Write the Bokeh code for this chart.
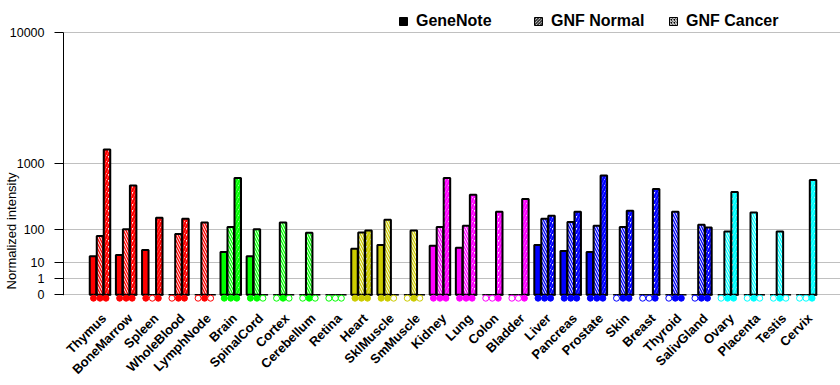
import math
from bokeh.plotting import figure
from bokeh.models import (ColumnDataSource, FixedTicker, Range1d, Legend, LegendItem,
                          LinearAxis, CustomJSTransform)
from bokeh.transform import transform
from bokeh.core.properties import value
from bokeh.embed import file_html
from bokeh.resources import INLINE

# ---------------- data ----------------
tissues = ["Thymus", "BoneMarrow", "Spleen", "WholeBlood", "LymphNode", "Brain", "SpinalCord",
           "Cortex", "Cerebellum", "Retina", "Heart", "SklMuscle", "SmMuscle", "Kidney", "Lung",
           "Colon", "Bladder", "Liver", "Pancreas", "Prostate", "Skin", "Breast", "Thyroid",
           "SalivGland", "Ovary", "Placenta", "Testis", "Cervix"]
tissue_colors = ["#FF0000"] * 5 + ["#00FF00"] * 5 + ["#CCCC00"] * 3 + ["#FF00FF"] * 4 + \
                ["#0000FF"] * 7 + ["#00FFFF"] * 4
genenote   = [17, 19, 28, 0, 0, 24, 17, 0, 0, 0, 31, 40, 0, 38, 33, 0, 0, 40, 26, 24,
              0, 0, 0, 0, 0, 0, 0, 0]
gnf_normal = [70, 100, 0, 78, 138, 112, 100, 138, 83, 0, 84, 156, 93, 112, 118, 0, 0, 163, 142, 118,
              112, 0, 218, 124, 89, 212, 89, 0]
gnf_cancer = [1400, 544, 170, 163, 0, 680, 0, 0, 0, 0, 93, 0, 0, 680, 408, 218, 353, 185, 218, 727,
              227, 490, 0, 109, 446, 0, 0, 643]
genenote_call = [1, 1, 1, 0, 0, 1, 1, 0, 0, 0, 1, 1, 0, 1, 1, 0, 0, 1, 1, 1, 0, 0, 0, 0, 0, 0, 0, 0]
normal_call   = [1, 1, 0, 1, 1, 1, 1, 1, 1, 0, 1, 1, 1, 1, 1, 0, 0, 1, 1, 1, 1, 0, 1, 1, 1, 1, 1, 0]
cancer_call   = [1, 1, 1, 1, 0, 1, 0, 0, 0, 0, 1, 0, 0, 1, 1, 1, 1, 1, 1, 1, 1, 1, 1, 1, 1, 0, 0, 1]
series_names = ["GeneNote", "GNF Normal", "GNF Cancer"]
y_tick_values = [0, 1, 10, 100, 1000, 10000]
y_tick_labels = ["0", "1", "10", "100", "1000", "10000"]
y_axis_title = "Normalized intensity"

# ---------------- scale (each decade doubles: t = 2^log10(v)) ----------------
def scale_t(v):
    return 2 ** math.log10(v) if v > 0 else 0

power_scale = CustomJSTransform(
    func="return x > 0 ? Math.pow(2, Math.log10(x)) : 0",
    v_func="return xs.map(function(x){ return x > 0 ? Math.pow(2, Math.log10(x)) : 0 })")

# ---------------- layout constants ----------------
W, H = 840, 385
PX_X = 26.15      # px per tissue group
PX_Y = 16.4       # px per scale unit
LEFT = 63
ZERO_Y = 294.3    # pixel row of value 0
x_start = -(99.5 - LEFT) / PX_X
x_end = x_start + (W - LEFT) / PX_X
y_end = ZERO_Y / PX_Y
y_start = y_end - H / PX_Y

FONT = "Liberation Sans"

p = figure(width=W, height=H, output_backend="svg", toolbar_location=None,
           x_axis_location=None,
           x_range=Range1d(x_start, x_end), y_range=Range1d(y_start, y_end),
           min_border_left=LEFT, min_border_right=0, min_border_top=0, min_border_bottom=0)
p.outline_line_color = None
p.background_fill_color = "white"
p.border_fill_color = "white"

ticks_t = [scale_t(v) for v in y_tick_values]
p.yaxis.ticker = FixedTicker(ticks=ticks_t)
p.yaxis.major_label_overrides = {t: lab for t, lab in zip(ticks_t, y_tick_labels)}
p.yaxis.bounds = (0, max(ticks_t))
p.yaxis.axis_line_color = "black"
p.yaxis.major_tick_out = 9
p.yaxis.major_tick_in = 0
p.yaxis.minor_tick_line_color = None
p.yaxis.major_label_standoff = 10
p.yaxis.major_label_text_font = FONT
p.yaxis.major_label_text_font_size = "12.5px"
p.yaxis.major_label_text_color = "black"

p.ygrid.ticker = FixedTicker(ticks=ticks_t)
p.ygrid.grid_line_color = "#C0C0C0"
p.ygrid.grid_line_width = 1
p.xgrid.visible = False

# axis carrying only the y title; trailing no-break spaces move the visible words
# below the centre of the plot, where the reference places them
title_axis = LinearAxis(ticker=FixedTicker(ticks=[]),
                        axis_line_color=None, major_tick_line_color=None,
                        minor_tick_line_color=None, major_tick_out=0, major_tick_in=0,
                        minor_tick_out=0, minor_tick_in=0, major_label_text_font_size="0px",
                        axis_label=y_axis_title + "\u00a0" * 21, axis_label_standoff=-12,
                        axis_label_text_font=FONT, axis_label_text_font_size="13px",
                        axis_label_text_font_style="normal", axis_label_text_color="black")
p.add_layout(title_axis, "left")

idx = list(range(len(tissues)))

# baseline segments under each group
p.segment(x0=[i - 9.9 / PX_X for i in idx], x1=[i + 11.2 / PX_X for i in idx],
          y0=[0] * len(idx), y1=[0] * len(idx), line_color="black", line_width=1.5)

BAR_OFF = [-7.0 / PX_X, 0.0, 7.0 / PX_X]
BAR_W = 6.5 / PX_X
MK_OFF = [-6.5 / PX_X, 0.0, 6.0 / PX_X]
MK_Y = -(297.7 - ZERO_Y) / PX_Y
LABEL_DX = 4.0 / PX_X
LABEL_Y = -(315.5 - ZERO_Y) / PX_Y

series_vals = [genenote, gnf_normal, gnf_cancer]
series_calls = [genenote_call, normal_call, cancer_call]

for k, vals in enumerate(series_vals):
    rows = [i for i, v in enumerate(vals) if v > 0]
    src = ColumnDataSource(dict(x=[i + BAR_OFF[k] for i in rows],
                                val=[vals[i] for i in rows],
                                color=[tissue_colors[i] for i in rows]))
    if k == 0:
        p.vbar(x="x", top=transform("val", power_scale), bottom=0, width=BAR_W, source=src,
               fill_color="color", line_color="black", line_width=2)
    elif k == 1:
        p.vbar(x="x", top=transform("val", power_scale), bottom=0, width=BAR_W, source=src,
               fill_color="color", line_color="black", line_width=2,
               hatch_pattern="left_diagonal_line", hatch_color="white",
               hatch_scale=5, hatch_weight=1)
    else:
        p.vbar(x="x", top=transform("val", power_scale), bottom=0, width=BAR_W, source=src,
               fill_color="white", line_color="black", line_width=2,
               hatch_pattern="right_diagonal_line", hatch_color="color",
               hatch_scale=6, hatch_weight=2.5)

for k, calls in enumerate(series_calls):
    src = ColumnDataSource(dict(x=[i + MK_OFF[k] for i in idx], y=[MK_Y] * len(idx),
                                fc=[tissue_colors[i] if c else "white" for i, c in enumerate(calls)],
                                lc=tissue_colors))
    p.scatter(x="x", y="y", source=src, marker="circle", size=6,
              fill_color="fc", line_color="lc", line_width=1)

# category labels (rotated 45 degrees, ending under each group)
p.text(x=[i + LABEL_DX for i in idx], y=[LABEL_Y] * len(idx), text=tissues, angle=math.pi / 4,
       text_align="right", text_baseline="middle", text_font=value(FONT),
       text_font_size="13px", text_font_style="bold", text_color="black")

# legend (proxy renderers placed outside the visible range)
l1 = p.vbar(x=[-50], top=[1], width=0.1, fill_color="black", line_color="black")
l2 = p.vbar(x=[-50], top=[1], width=0.1, fill_color="white", line_color="black",
            hatch_pattern="left_diagonal_line", hatch_color="black", hatch_scale=3, hatch_weight=1)
l3 = p.vbar(x=[-50], top=[1], width=0.1, fill_color="black", line_color="black",
            hatch_pattern="right_diagonal_line", hatch_color="white", hatch_scale=3, hatch_weight=1)
legend = Legend(items=[LegendItem(label=series_names[0], renderers=[l1]),
                       LegendItem(label=series_names[1], renderers=[l2]),
                       LegendItem(label=series_names[2], renderers=[l3])],
                orientation="horizontal", location=(398 - LEFT, H - 30),
                glyph_width=10, glyph_height=10, label_standoff=8, label_width=105, spacing=12,
                padding=0, margin=0, border_line_color=None, background_fill_alpha=0,
                label_text_font=FONT, label_text_font_size="16px", label_text_font_style="bold",
                label_text_color="black")
p.add_layout(legend)

open("out.html", "w").write(file_html(p, INLINE))
